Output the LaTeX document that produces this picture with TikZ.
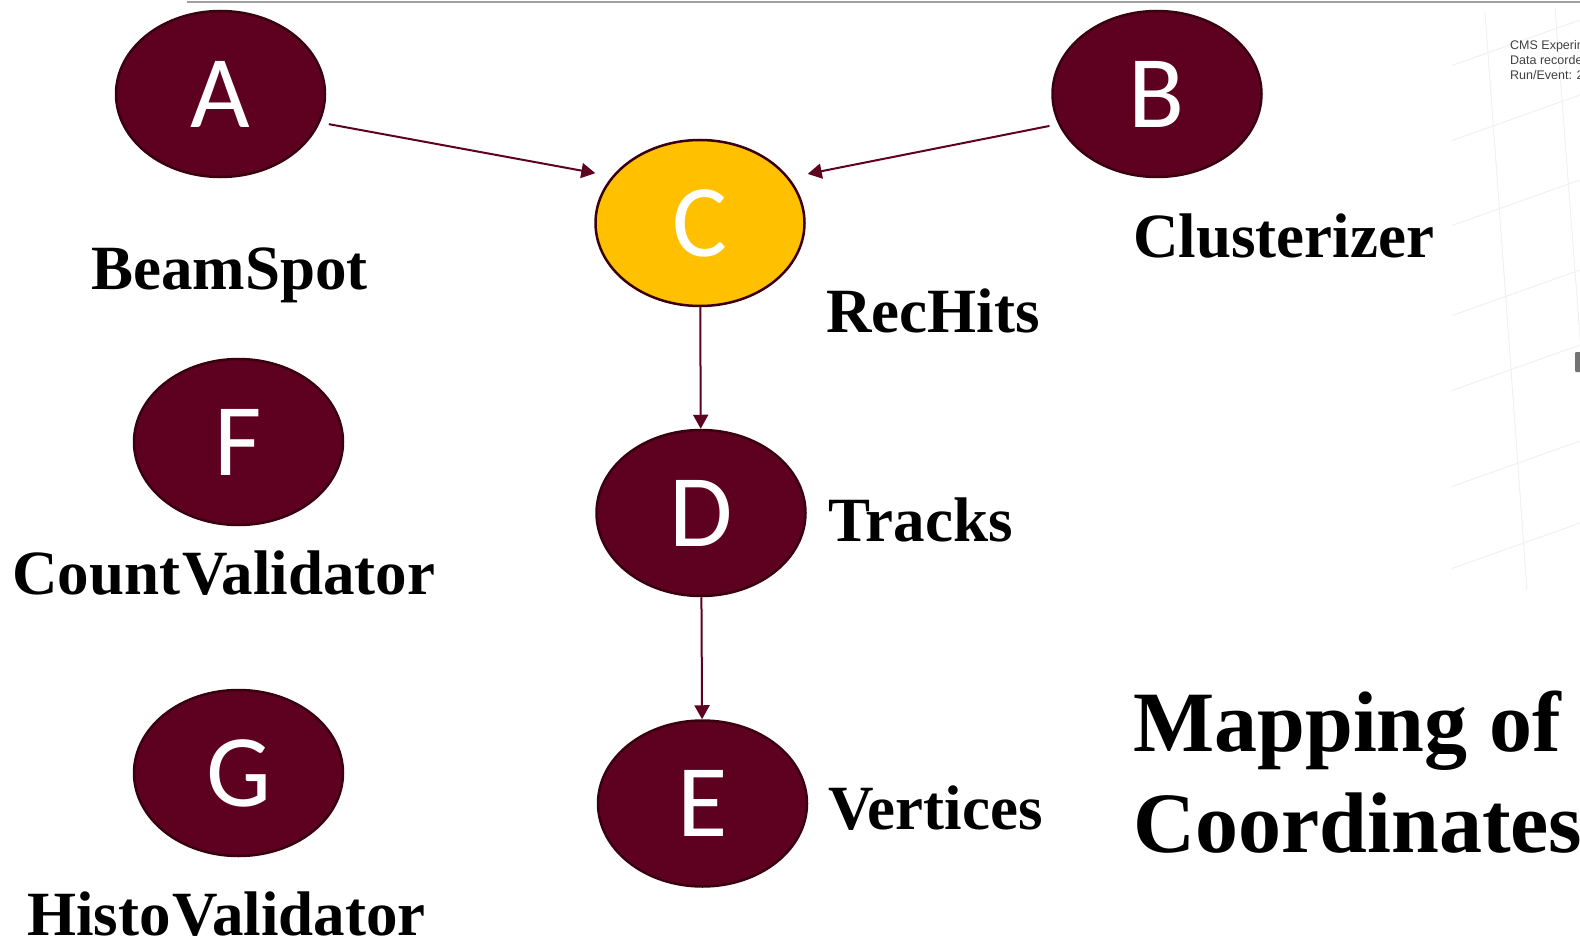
\documentclass[tikz,border=0pt]{standalone}
\usepackage{fontspec}
\setmainfont{Liberation Serif}
\newfontfamily\letterfont{Carlito}
\newfontfamily\cmsfont{Liberation Sans}
\usetikzlibrary{shapes.geometric,arrows.meta}

\definecolor{nodered}{HTML}{5E0020}
\definecolor{nodeedge}{HTML}{3A0010}
\definecolor{recgold}{HTML}{FFC000}
\definecolor{rulegray}{HTML}{A0A0A0}

\begin{document}
\begin{tikzpicture}[x=1pt,y=-1pt,
  proc/.style={ellipse, draw=nodeedge, line width=2.5pt, fill=nodered,
    minimum width=209pt, minimum height=166pt, inner sep=0pt, text=white,
    font=\letterfont\fontsize{103}{103}\selectfont},
  lbl/.style={anchor=base west, inner sep=0pt,
    font=\bfseries\fontsize{63}{63}\selectfont},
  title/.style={anchor=base west, inner sep=0pt,
    font=\bfseries\fontsize{86}{86}\selectfont},
  flow/.style={draw=nodered, line width=2pt,
    -{Triangle[length=14pt,width=15pt]}},
  faint/.style={draw=black!6, line width=1pt},
]
\useasboundingbox (0,0) rectangle (1580,939);

% event display fragment at the right edge
\begin{scope}
  \clip (1452,0) rectangle (1580,600);
  \foreach \yy in {62,137,222,312,387,483,565}
    \draw[faint] (1452,\yy+3.5) -- (1580,\yy-42);
  \draw[faint] (1485,12) -- (1527,590);
  \draw[faint] (1555,8) -- (1600,600);
  \fill[black!55, rounded corners=1pt] (1575,352) rectangle (1581,372);
  \node[anchor=north west, inner sep=0pt, text=black!75, align=left,
        font=\cmsfont\fontsize{12.5}{15}\selectfont] (cms) at (1510,40)
    {CMS Experiment\\Data recorded\\Run/Event: 2};
\end{scope}

% rule along the top
\coordinate (ruleL) at (187,2.5);
\coordinate (ruleR) at (1580,2.5);
\draw[rulegray, line width=2pt] (ruleL) -- (ruleR);

% modules
\node[proc] (A) at (220.5,94) {A};
\node[proc] (B) at (1157,94) {B};
\node[proc, fill=recgold] (C) at (700,223) {C};
\node[proc] (D) at (701,513) {D};
\node[proc] (E) at (702.5,803.5) {E};
\node[proc] (F) at (238.5,442) {F};
\node[proc] (G) at (238.5,773) {G};

% module names
\node[lbl] (lA) at (91,289) {BeamSpot};
\node[lbl] (lB) at (1133,257) {Clusterizer};
\node[lbl] (lC) at (826,332) {RecHits};
\node[lbl] (lD) at (828,541) {Tracks};
\node[lbl] (lE) at (828,829) {Vertices};
\node[lbl] (lF) at (12,594) {Count\kern2pt Validator};
\node[lbl] (lG) at (27,935) {Histo\kern2pt Validator};

% heading
\node[title] (t1) at (1133,751) {Mapping of};
\node[title] (t2) at (1133,852) {Coordinates};

% dependencies
\draw[flow, shorten <=9pt, shorten >=17pt] (A.-16.6) -- (C.152);
\draw[flow, shorten <=9pt, shorten >=19pt] (B.197) -- (C.27);
\draw[flow] (C) -- (D);
\draw[flow] (D) -- (E);
\end{tikzpicture}
\end{document}
